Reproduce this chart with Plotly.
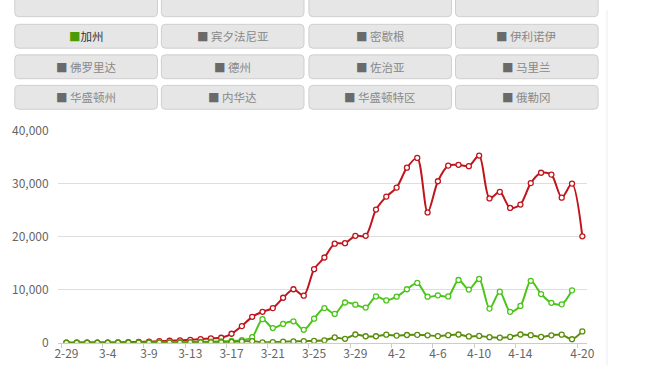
import plotly.graph_objects as go

W, H = 672, 372

# ---------------- data ----------------
dates = ["2-29", "3-1", "3-2", "3-3", "3-4", "3-5", "3-7", "3-8", "3-9", "3-10",
         "3-11", "3-12", "3-13", "3-14", "3-15", "3-16", "3-17", "3-18", "3-19", "3-20",
         "3-21", "3-22", "3-23", "3-24", "3-25", "3-26", "3-27", "3-28", "3-29", "3-30",
         "3-31", "4-1", "4-2", "4-3", "4-4", "4-5", "4-6", "4-7", "4-8", "4-9",
         "4-10", "4-11", "4-12", "4-13", "4-14", "4-15", "4-16", "4-17", "4-18", "4-19",
         "4-20"]

red_values = [20, 25, 30, 35, 40, 60, 100, 150, 220, 300,
              380, 450, 550, 700, 820, 950, 1700, 3150, 4900, 5850,
              6550, 8500, 10100, 8900, 13900, 16100, 18700, 18800, 20200, 20200,
              25150, 27600, 29300, 33050, 34900, 24600, 30500, 33450, 33600, 33350,
              35350, 27250, 28500, 25450, 26100, 30150, 32100, 31750, 27400, 30050,
              20100]

green_values = [0, 0, 0, 0, 0, 10, 20, 30, 40, 60,
                80, 100, 130, 170, 210, 260, 330, 480, 1050, 4450,
                2780, 3550, 4050, 2450, 4550, 6550, 5450, 7600, 7200, 6650,
                8750, 8000, 8700, 10100, 11300, 8700, 8950, 8750, 11850, 10050,
                12050, 6450, 9650, 5850, 6950, 11700, 9200, 7550, 7250, 9900,
                None]

olive_values = [0, 0, 0, 0, 5, 10, 15, 20, 25, 30,
                40, 50, 60, 70, 80, 100, 150, 250, 300, 80,
                130, 200, 250, 300, 370, 470, 1000, 750, 1560, 1230,
                1230, 1530, 1350, 1470, 1500, 1410, 1260, 1440, 1560, 1200,
                1290, 1050, 960, 1110, 1560, 1440, 1110, 1410, 1530, 660,
                2150]

tick_labels = ["2-29", "3-4", "3-9", "3-13", "3-17", "3-21", "3-25", "3-29",
               "4-2", "4-6", "4-10", "4-14", "4-20"]

legend_rows = [
    ["", "", "", ""],
    ["加州", "宾夕法尼亚", "密歇根", "伊利诺伊"],
    ["佛罗里达", "德州", "佐治亚", "马里兰"],
    ["华盛顿州", "内华达", "华盛顿特区", "俄勒冈"],
]
active_legend = "加州"

series = [
    ("全美", red_values, "#c0151d"),
    ("加州新增", green_values, "#4cc51a"),
    ("加州", olive_values, "#5a8d0c"),
]

# ---------------- helpers ----------------
def px(x):
    return x / W


def py(y):
    return 1 - y / H


FONT = "Noto Sans CJK SC, Microsoft YaHei, sans-serif"

fig = go.Figure()
for name, vals, color in series:
    fig.add_trace(go.Scatter(
        x=dates, y=vals, name=name, mode="lines+markers",
        line=dict(color=color, width=2, shape="spline", smoothing=0.8),
        marker=dict(symbol="circle", size=5, color="white",
                    line=dict(color=color, width=1.3)),
        connectgaps=False, showlegend=False,
    ))

# ---------------- legend buttons ----------------
shapes = []
annotations = []
col_x0 = [11, 160, 310, 459]
row_y0 = [-18, 15, 47, 79]
bw, bh, r = 145, 25, 4
for ri, row in enumerate(legend_rows):
    for ci, label in enumerate(row):
        x0, y0 = col_x0[ci], row_y0[ri]
        x1, y1 = x0 + bw, y0 + bh
        rx, ry = r / W, r / H
        X0, X1, Y0, Y1 = px(x0), px(x1), py(y0), py(y1)
        path = (f"M {X0+rx},{Y0} L {X1-rx},{Y0} Q {X1},{Y0} {X1},{Y0-ry} "
                f"L {X1},{Y1+ry} Q {X1},{Y1} {X1-rx},{Y1} "
                f"L {X0+rx},{Y1} Q {X0},{Y1} {X0},{Y1+ry} "
                f"L {X0},{Y0-ry} Q {X0},{Y0} {X0+rx},{Y0} Z")
        shapes.append(dict(type="path", xref="paper", yref="paper", path=path,
                           fillcolor="#e6e6e6", line=dict(color="#cfcfcf", width=1),
                           layer="below"))
        if label:
            if label == active_legend:
                txt = ('<span style="color:#4b9b06">■</span>'
                       f'<span style="color:#333333">{label}</span>')
            else:
                txt = ('<span style="color:#6a6a6a">■</span> '
                       f'<span style="color:#888888">{label}</span>')
            annotations.append(dict(
                x=px(x0 + bw / 2), y=py(y0 + bh / 2), xref="paper", yref="paper",
                text=txt, showarrow=False, xanchor="center", yanchor="middle",
                font=dict(family=FONT, size=11.5, color="#888888")))

# right-hand divider
shapes.append(dict(type="line", xref="paper", yref="paper",
                   x0=px(613), x1=px(613), y0=0, y1=1,
                   line=dict(color="#ececec", width=1)))

fig.update_layout(
    width=W, height=H, autosize=False,
    margin=dict(l=0, r=0, t=0, b=0),
    paper_bgcolor="white", plot_bgcolor="white",
    shapes=shapes, annotations=annotations,
    font=dict(family=FONT, size=12, color="#666666"),
    xaxis=dict(
        type="category", domain=[px(55), px(593)],
        range=[-0.81, 50.48], autorange=False,
        tickmode="array", tickvals=tick_labels, ticktext=tick_labels,
        tickson="boundaries", tickangle=0,
        showgrid=False, zeroline=False,
        showline=True, linecolor="#cccccc", linewidth=1,
        ticks="outside", ticklen=4, tickcolor="#cccccc",
        tickfont=dict(family=FONT, size=12, color="#666666"),
    ),
    yaxis=dict(
        domain=[1 - 348.7 / H, 1 - 126.7 / H],
        range=[0, 40000], autorange=False,
        tickvals=[0, 10000, 20000, 30000, 40000],
        tickformat=",d",
        showgrid=True, gridcolor="#dedede", gridwidth=1,
        zeroline=False, showline=False,
        ticks="outside", ticklen=6, tickcolor="rgba(0,0,0,0)",
        tickfont=dict(family=FONT, size=12, color="#666666"),
    ),
    hovermode=False,
)

fig.write_html("out.html", config={"displayModeBar": False},
               post_script="document.body.style.margin='0';")
